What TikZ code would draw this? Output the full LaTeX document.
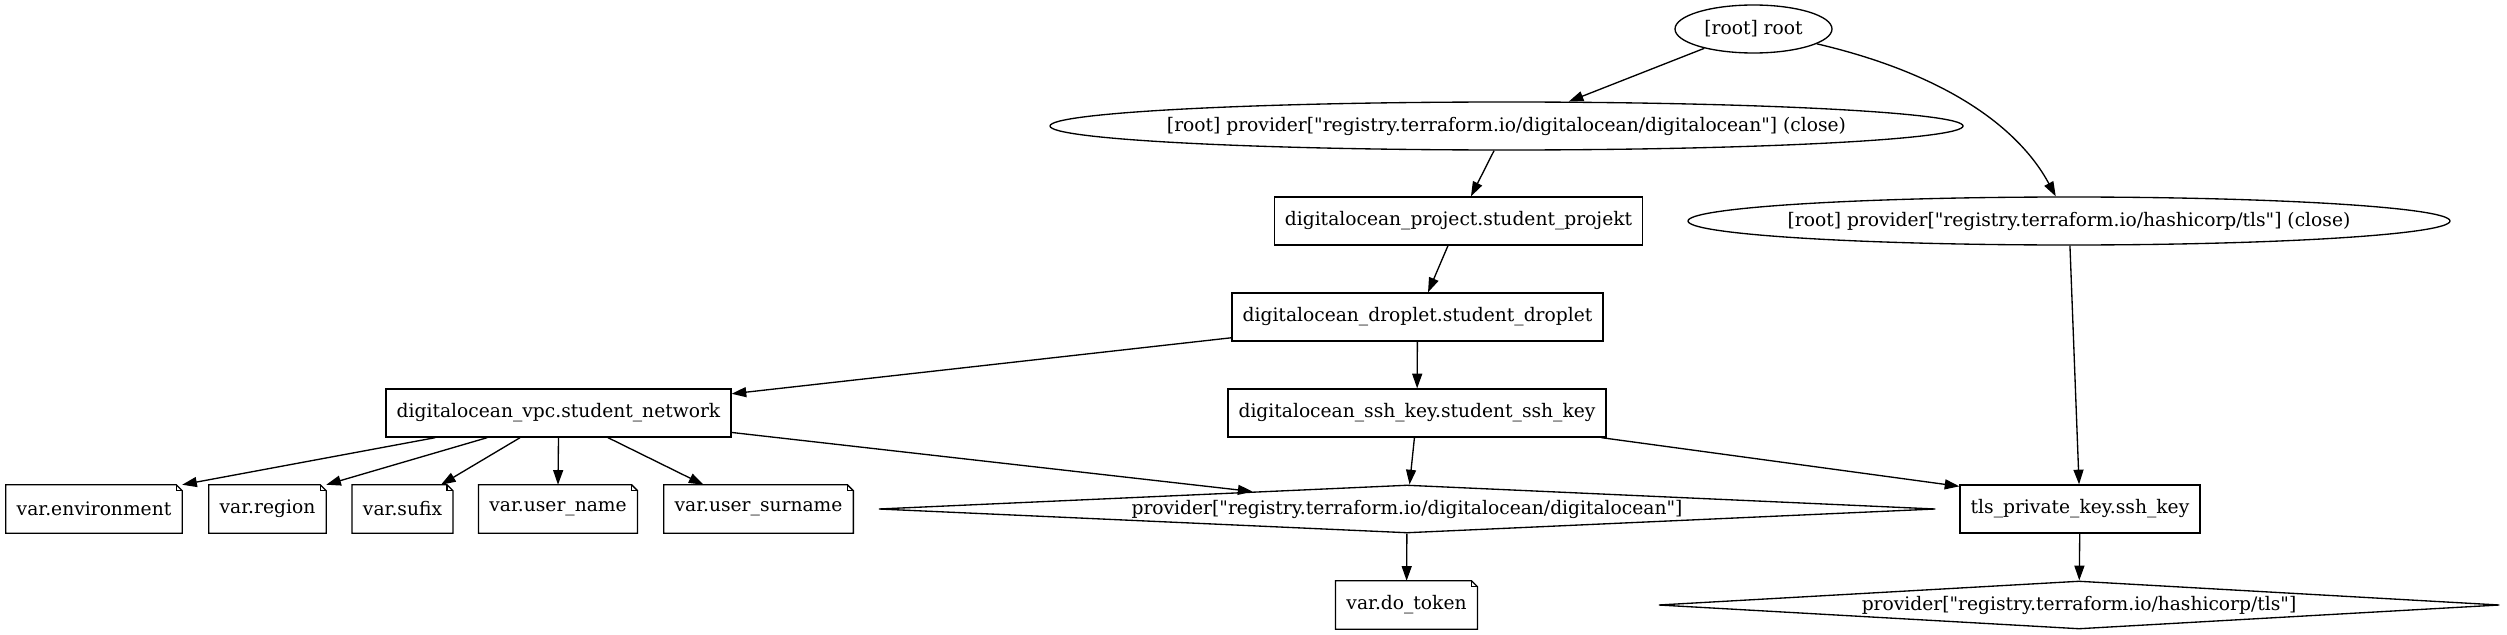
\documentclass[tikz,border=0pt]{standalone}
\usepackage{fontspec}
\setmainfont{DejaVu Serif}[Ligatures=TeXOff]
\usetikzlibrary{shapes.geometric,arrows.meta,calc}

\tikzset{
  mod/.style={draw, ellipse, line width=1pt, minimum height=36pt, inner ysep=0pt, inner xsep=-20pt},
  res/.style={draw, rectangle, line width=1pt, minimum height=36pt, inner xsep=8pt, inner ysep=0pt},
  var/.style={rectangle, minimum height=36pt, inner xsep=8pt, inner ysep=0pt},
  prov/.style={draw, diamond, line width=1pt, minimum height=36pt, inner sep=0pt, aspect=22},
  dep/.style={line width=1pt, -{Triangle[length=11pt,width=7.5pt]}},
}

\begin{document}
\begin{tikzpicture}[x=0.75pt, y=-0.75pt, font=\fontsize{14pt}{17pt}\selectfont]
  \useasboundingbox (0,0) rectangle (2507,635);

  % root and closing providers
  \node[mod, minimum width=117.75pt] (root) at (1753.5,29) {[root] root};
  \node[mod, minimum width=684.75pt] (doclose) at (1506.5,126) {[root] provider["registry.terraform.io/digitalocean/digitalocean"] (close)};
  \node[mod, minimum width=571.5pt] (tlsclose) at (2069,221) {[root] provider["registry.terraform.io/hashicorp/tls"] (close)};

  % resources
  \node[res] (project) at (1458.5,221) {digitalocean\_project.student\_projekt};
  \node[res] (droplet) at (1417.5,317) {digitalocean\_droplet.student\_droplet};
  \node[res] (vpc) at (558.5,413) {digitalocean\_vpc.student\_network};
  \node[res] (ssh) at (1417,413) {digitalocean\_ssh\_key.student\_ssh\_key};
  \node[res] (tls) at (2080,509) {tls\_private\_key.ssh\_key};

  % variables
  \node[var] (env) at (94,509) {var.environment};
  \node[var] (region) at (267.5,509) {var.region};
  \node[var] (sufix) at (402.5,509) {var.sufix};
  \node[var] (uname) at (558,509) {var.user\_name};
  \node[var] (usurname) at (758.5,509) {var.user\_surname};
  \node[var] (dotoken) at (1406.5,605) {var.do\_token};

  % providers
  \node[prov, minimum width=792.75pt] (provdo) at (1407,509) {provider["registry.terraform.io/digitalocean/digitalocean"]};
  \node[prov, aspect=17.5, minimum width=630.75pt] (provtls) at (2079,605) {provider["registry.terraform.io/hashicorp/tls"]};

  % note outlines with folded corner
  \foreach \n in {env,region,sufix,uname,usurname,dotoken} {
    \draw[line width=1pt] (\n.south west) -- (\n.north west) -- ([xshift=-4.5pt]\n.north east)
      -- ([yshift=-4.5pt]\n.north east) -- (\n.south east) -- cycle;
    \draw[line width=1pt] ([xshift=-4.5pt]\n.north east) |- ([yshift=-4.5pt]\n.north east);
  }

  % dependencies
  \draw[dep] (root) -- (doclose);
  \draw[dep] (root) .. controls (1950,75) and (2020,130) .. (tlsclose);
  \draw[dep] (doclose) -- (project);
  \draw[dep] (project) -- (droplet);
  \draw[dep] (droplet) -- (vpc);
  \draw[dep] (droplet) -- (ssh);
  \draw[dep] ($(vpc.south west)!0.144!(vpc.south east)$) -- (env.north east);
  \draw[dep] ($(vpc.south west)!0.294!(vpc.south east)$) -- (region.north east);
  \draw[dep] ($(vpc.south west)!0.389!(vpc.south east)$) -- ([xshift=-9pt]sufix.north east);
  \draw[dep] (vpc.south) -- (uname.north);
  \draw[dep] ($(vpc.south west)!0.643!(vpc.south east)$) -- ($(usurname.north west)!0.21!(usurname.north east)$);
  \draw[dep] (vpc) -- (provdo);
  \draw[dep] (ssh) -- (provdo);
  \draw[dep] ([xshift=-4pt]ssh.south east) -- ([yshift=-1.5pt]tls.north west);
  \draw[dep] (tlsclose) -- (tls);
  \draw[dep] (provdo) -- (dotoken);
  \draw[dep] (tls) -- (provtls);
\end{tikzpicture}
\end{document}
